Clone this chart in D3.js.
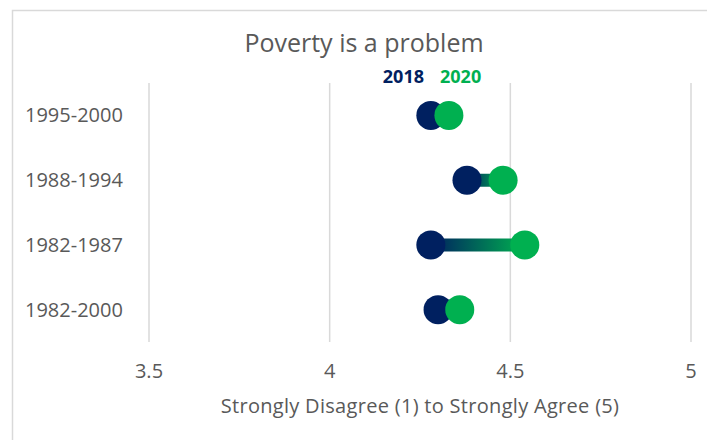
<!DOCTYPE html>
<html>
<head>
<meta charset="utf-8">
<script src="https://cdn.jsdelivr.net/npm/d3@7"></script>
<style>
  body { margin: 0; background: #fff; }
  text { font-family: 'Open Sans', sans-serif; }
</style>
</head>
<body>
<div id="chart"></div>
<script>
const cohorts = ['1995-2000', '1988-1994', '1982-1987', '1982-2000'];
const values2018 = [4.28, 4.38, 4.28, 4.30];
const values2020 = [4.33, 4.48, 4.54, 4.36];
const xTicks = [3.5, 4, 4.5, 5];
const years = ['2018', '2020'];

const navy = '#002060';
const green = '#00b050';
const grey = '#595959';

const width = 707, height = 440;
const margin = { top: 83, right: 16, bottom: 98, left: 149 };

const svg = d3.select('#chart')
  .append('svg')
  .attr('width', width)
  .attr('height', height);

// chart frame
svg.append('rect')
  .attr('x', 12.5).attr('y', 10.5)
  .attr('width', 720).attr('height', 460)
  .attr('fill', 'none')
  .attr('stroke', '#d9d9d9')
  .attr('stroke-width', 1.5);

const x = d3.scaleLinear()
  .domain([3.5, 5])
  .range([margin.left, width - margin.right]);

const y = d3.scaleBand()
  .domain(cohorts)
  .range([margin.top, height - margin.bottom]);

// vertical gridlines
svg.append('g')
  .selectAll('line')
  .data(xTicks)
  .join('line')
  .attr('x1', d => x(d)).attr('x2', d => x(d))
  .attr('y1', margin.top).attr('y2', height - margin.bottom)
  .attr('stroke', '#d9d9d9')
  .attr('stroke-width', 1.5);

// tick labels
svg.append('g')
  .selectAll('text')
  .data(xTicks)
  .join('text')
  .attr('x', d => x(d))
  .attr('y', 378)
  .attr('text-anchor', 'middle')
  .attr('fill', grey)
  .style('font-size', '20px')
  .text(d => d);

// category labels
svg.append('g')
  .selectAll('text')
  .data(cohorts)
  .join('text')
  .attr('x', 25)
  .attr('y', d => y(d) + y.bandwidth() / 2)
  .attr('dy', '0.35em')
  .attr('fill', grey)
  .style('font-size', '20px')
  .text(d => d);

// title, legend, axis title
svg.append('text')
  .attr('x', 364).attr('y', 52)
  .attr('text-anchor', 'middle')
  .attr('fill', grey)
  .style('font-size', '25px')
  .text('Poverty is a problem');

svg.append('g')
  .selectAll('text')
  .data(years)
  .join('text')
  .attr('x', (d, i) => i === 0 ? 424 : 440)
  .attr('y', 83)
  .attr('text-anchor', (d, i) => i === 0 ? 'end' : 'start')
  .attr('fill', (d, i) => i === 0 ? navy : green)
  .style('font-size', '18px')
  .style('font-weight', 'bold')
  .text(d => d);

svg.append('text')
  .attr('x', 420).attr('y', 413)
  .attr('text-anchor', 'middle')
  .attr('fill', grey)
  .style('font-size', '20px')
  .style('letter-spacing', '0.3px')
  .text('Strongly Disagree (1) to Strongly Agree (5)');

// gradient connectors
const defs = svg.append('defs');
const rows = cohorts.map((c, i) => ({ name: c, a: values2018[i], b: values2020[i], i }));

rows.forEach(d => {
  const g = defs.append('linearGradient')
    .attr('id', 'grad' + d.i)
    .attr('gradientUnits', 'userSpaceOnUse')
    .attr('x1', x(d.a)).attr('x2', x(d.b))
    .attr('y1', 0).attr('y2', 0);
  g.append('stop').attr('offset', '0%').attr('stop-color', navy);
  g.append('stop').attr('offset', '100%').attr('stop-color', green);
});

svg.append('g')
  .selectAll('line')
  .data(rows)
  .join('line')
  .attr('x1', d => x(d.a)).attr('x2', d => x(d.b))
  .attr('y1', d => y(d.name) + y.bandwidth() / 2)
  .attr('y2', d => y(d.name) + y.bandwidth() / 2)
  .attr('stroke', d => `url(#grad${d.i})`)
  .attr('stroke-width', 13);

svg.append('g')
  .selectAll('circle')
  .data(rows)
  .join('circle')
  .attr('cx', d => x(d.a))
  .attr('cy', d => y(d.name) + y.bandwidth() / 2)
  .attr('r', 14.5)
  .attr('fill', navy);

svg.append('g')
  .selectAll('circle')
  .data(rows)
  .join('circle')
  .attr('cx', d => x(d.b))
  .attr('cy', d => y(d.name) + y.bandwidth() / 2)
  .attr('r', 14.5)
  .attr('fill', green);
</script>
</body>
</html>
